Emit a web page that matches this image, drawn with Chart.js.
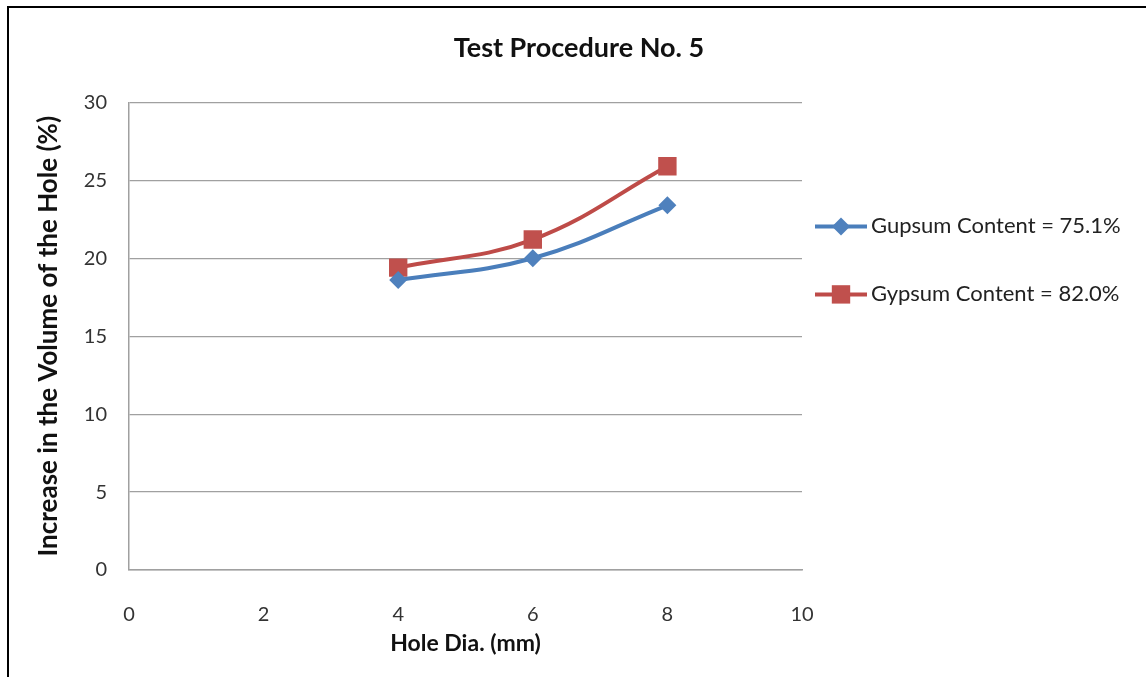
<!DOCTYPE html>
<html>
<head>
<meta charset="utf-8">
<script src="https://cdn.jsdelivr.net/npm/chart.js@4.4.1/dist/chart.umd.min.js"></script>
<style>
  html, body { margin: 0; padding: 0; background: #fff; }
  #wrap { position: relative; width: 1146px; height: 677px; overflow: hidden; }
  #frame { position: absolute; left: 7px; top: 6px; right: -10px; bottom: -10px;
           border-left: 2px solid #000; border-top: 2px solid #000; pointer-events: none; }
  canvas { position: absolute; left: 0; top: 0; }
</style>
</head>
<body>
<div id="wrap">
  <canvas id="volumeChart" width="1146" height="677"></canvas>
  <div id="frame"></div>
</div>
<script>
// data
const holeDia = [4, 6, 8];
const gupsum751 = [18.6, 20.0, 23.4];
const gypsum820 = [19.4, 21.2, 25.9];
const seriesNames = ['Gupsum Content = 75.1%', 'Gypsum Content = 82.0%'];
const xTicks = [0, 2, 4, 6, 8, 10];
const yTicks = [0, 5, 10, 15, 20, 25, 30];

const FONT = 'Lato, "Open Sans", sans-serif';

function toPoints(xs, ys) {
    return xs.map((x, i) => ({x: x, y: ys[i]}));
}

// Excel-style legend: short line with the marker in its middle
const lineLegend = {
    id: 'lineLegend',
    afterDraw(chart) {
        const ctx = chart.ctx;
        const area = chart.chartArea;
        const x0 = area.right + 13;
        let y = area.top + 124;
        ctx.save();
        chart.data.datasets.forEach(ds => {
            ctx.strokeStyle = ds.borderColor;
            ctx.lineWidth = ds.borderWidth;
            ctx.beginPath();
            ctx.moveTo(x0, y);
            ctx.lineTo(x0 + 52, y);
            ctx.stroke();
            const cx = x0 + 26;
            const r = ds.pointRadius;
            ctx.fillStyle = ds.pointBackgroundColor;
            ctx.beginPath();
            if (ds.pointStyle === 'rectRot') {
                ctx.moveTo(cx, y - r);
                ctx.lineTo(cx + r, y);
                ctx.lineTo(cx, y + r);
                ctx.lineTo(cx - r, y);
                ctx.closePath();
            } else {
                const s = r * Math.SQRT1_2;
                ctx.rect(cx - s, y - s, 2 * s, 2 * s);
            }
            ctx.fill();
            ctx.fillStyle = '#222';
            ctx.font = '22px ' + FONT;
            ctx.textBaseline = 'middle';
            ctx.textAlign = 'left';
            ctx.fillText(ds.label, x0 + 56, y);
            y += 68;
        });
        ctx.restore();
    }
};

const canvas = document.getElementById('volumeChart');
const ctx = canvas.getContext('2d');

const config = {
    type: 'scatter',
    data: {
        datasets: [{
            label: seriesNames[0],
            data: toPoints(holeDia, gupsum751),
            showLine: true,
            borderColor: '#4a7ebb',
            borderWidth: 4,
            tension: 0.4,
            pointStyle: 'rectRot',
            pointRadius: 9,
            pointBackgroundColor: '#4f81bd',
            pointBorderWidth: 0
        }, {
            label: seriesNames[1],
            data: toPoints(holeDia, gypsum820),
            showLine: true,
            borderColor: '#be4b48',
            borderWidth: 4,
            tension: 0.4,
            pointStyle: 'rect',
            pointRadius: 13,
            pointBackgroundColor: '#c0504d',
            pointBorderWidth: 0
        }]
    },
    options: {
        responsive: false,
        animation: false,
        layout: {padding: {left: 12, right: 0, top: 14, bottom: 0}},
        plugins: {
            legend: {display: false},
            tooltip: {enabled: false},
            title: {
                display: true,
                text: 'Test Procedure No. 5',
                color: '#111',
                font: {family: FONT, size: 27, weight: 'bold'},
                padding: {top: 18, bottom: 38}
            }
        },
        scales: {
            x: {
                type: 'linear',
                min: 0,
                max: 10,
                afterBuildTicks: axis => { axis.ticks = xTicks.map(v => ({value: v})); },
                afterFit: axis => { axis.height = 107; },
                grid: {display: false, drawTicks: false},
                border: {display: true, color: '#a0a0a0', width: 1.5},
                ticks: {color: '#333', font: {family: FONT, size: 20}, padding: 33},
                title: {
                    display: true,
                    text: 'Hole Dia. (mm)',
                    color: '#111',
                    font: {family: FONT, size: 23, weight: 'bold'},
                    padding: {top: 4, bottom: 20}
                }
            },
            y: {
                min: 0,
                max: 30,
                afterBuildTicks: axis => { axis.ticks = yTicks.map(v => ({value: v})); },
                afterFit: axis => { axis.width = 117; },
                grid: {color: '#a0a0a0', lineWidth: 1.2, drawTicks: false},
                border: {display: true, color: '#a0a0a0', width: 1.5},
                ticks: {color: '#333', font: {family: FONT, size: 20}, padding: 22},
                title: {
                    display: true,
                    text: 'Increase in the Volume of the Hole (%)',
                    color: '#111',
                    font: {family: FONT, size: 26, weight: 'bold'},
                    padding: {top: 21, bottom: 2}
                }
            },
            // empty axis that keeps room for the legend on the right
            legendSpace: {
                type: 'linear',
                axis: 'y',
                position: 'right',
                display: true,
                afterFit: axis => { axis.width = 344; },
                grid: {display: false, drawTicks: false},
                border: {display: false},
                ticks: {display: false}
            }
        }
    },
    plugins: [lineLegend]
};

new Chart(ctx, config);
</script>
</body>
</html>
